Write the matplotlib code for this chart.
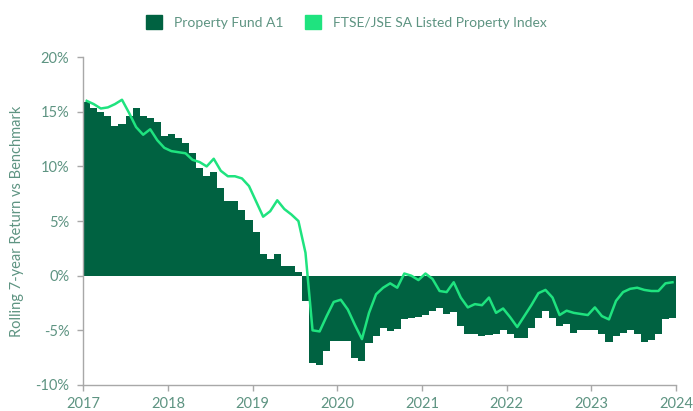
import matplotlib
matplotlib.use("Agg")
import matplotlib.pyplot as plt
import numpy as np
from matplotlib.patches import Patch
from matplotlib.ticker import FuncFormatter

plt.rcParams['font.family'] = ['Lato', 'DejaVu Sans']

start_year = 2017
fund = [
    15.9, 15.3, 15.0, 14.6, 13.7, 13.9, 14.6, 15.3, 14.6, 14.4, 14.1, 12.8,
    13.0, 12.6, 12.1, 11.2, 9.9, 9.1, 9.5, 8.0, 6.8, 6.8, 6.0, 5.1,
    4.0, 2.0, 1.5, 2.0, 0.9, 0.9, 0.3, -2.3, -8.0, -8.2, -6.9, -6.0,
    -6.0, -6.0, -7.5, -7.8, -6.2, -5.5, -4.8, -5.1, -4.9, -4.0, -3.9, -3.8,
    -3.6, -3.2, -3.0, -3.5, -3.3, -4.6, -5.3, -5.3, -5.5, -5.4, -5.3, -5.0,
    -5.3, -5.7, -5.7, -4.8, -3.9, -3.2, -3.9, -4.6, -4.4, -5.2, -5.0, -5.0,
    -5.0, -5.3, -6.1, -5.5, -5.2, -5.0, -5.3, -6.1, -5.9, -5.3, -4.0, -3.9,
]
index = [
    16.0, 15.7, 15.3, 15.4, 15.7, 16.1, 14.9, 13.6, 12.9, 13.4, 12.4, 11.7,
    11.4, 11.3, 11.2, 10.6, 10.4, 10.0, 10.7, 9.6, 9.1, 9.1, 8.9, 8.2,
    6.8, 5.4, 5.9, 6.9, 6.1, 5.6, 5.0, 2.1, -5.0, -5.1, -3.7, -2.4,
    -2.2, -3.1, -4.5, -5.8, -3.4, -1.7, -1.1, -0.7, -1.1, 0.2, 0.0, -0.4,
    0.2, -0.3, -1.4, -1.5, -0.6, -2.0, -2.9, -2.6, -2.7, -2.0, -3.4, -3.0,
    -3.8, -4.7, -3.7, -2.7, -1.6, -1.3, -2.0, -3.6, -3.2, -3.4, -3.5, -3.6,
    -2.9, -3.7, -4.0, -2.3, -1.5, -1.2, -1.1, -1.3, -1.4, -1.4, -0.7, -0.6,
]
year_ticks = [2017, 2018, 2019, 2020, 2021, 2022, 2023, 2024]
y_ticks = [-10, -5, 0, 5, 10, 15, 20]
labels = ["Property Fund A1", "FTSE/JSE SA Listed Property Index"]

dark = "#006241"
bright = "#1FE37F"
txt = "#5E9482"
axis_c = "#A8A8A8"

x = start_year + (np.arange(len(fund)) + 0.5) / 12.0

fig = plt.figure(figsize=(6.93, 4.11), dpi=100)
ax = fig.add_axes([0.12, 0.0633, 0.8555, 0.7977])

ax.bar(x, fund, width=1/12, color=dark, linewidth=0, antialiased=False, zorder=2)
ax.plot(x, index, color=bright, linewidth=1.8, zorder=3)

ax.set_xlim(2017, 2024)
ax.set_ylim(-10, 20)
ax.set_xticks(year_ticks)
ax.set_xticklabels([str(t) for t in year_ticks])
ax.set_yticks(y_ticks)
ax.yaxis.set_major_formatter(FuncFormatter(lambda v, p: f"{int(v)}%"))

for s in ["top", "right"]:
    ax.spines[s].set_visible(False)
for s in ["left", "bottom"]:
    ax.spines[s].set_color(axis_c)
    ax.spines[s].set_linewidth(1.0)
ax.tick_params(axis="both", colors=axis_c, labelcolor=txt, labelsize=10.5, length=4, width=1.0)
ax.tick_params(axis="y", pad=6)
ax.tick_params(axis="x", pad=5)

ax.set_ylabel("Rolling 7-year Return vs Benchmark", color=txt, fontsize=10.5, labelpad=8)

handles = [Patch(facecolor=dark, edgecolor=dark), Patch(facecolor=bright, edgecolor=bright)]
fig.legend(handles, labels, loc="center", bbox_to_anchor=(0.5, 0.9465), ncol=2, frameon=False,
           fontsize=10, labelcolor=txt, handlelength=1.15, handleheight=1.15, columnspacing=1.5,
           handletextpad=0.9)

fig.savefig("out.png", dpi=100)
